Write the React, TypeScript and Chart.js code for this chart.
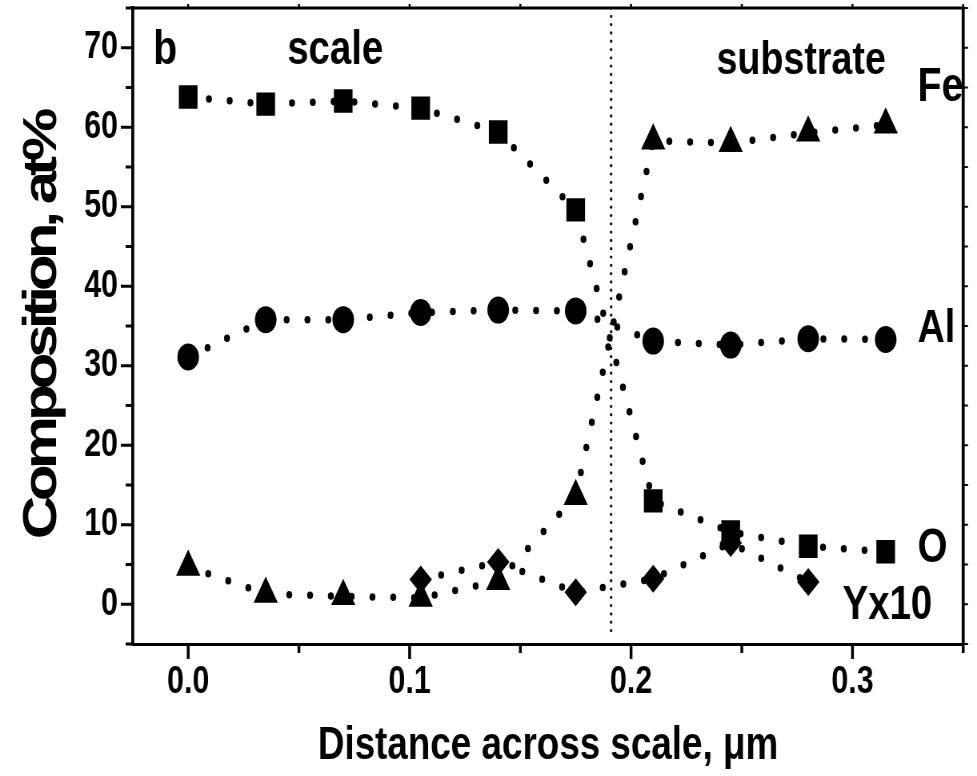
import React, { useEffect, useRef } from "react";
import { Chart, registerables } from "chart.js";

Chart.register(...registerables);

// ---- data ----
const DISTANCE = [0, 0.035, 0.07, 0.105, 0.14, 0.175, 0.21, 0.245, 0.28, 0.315];
const O_AT = [63.8, 62.9, 63.3, 62.4, 59.4, 49.6, 13.0, 9.1, 7.3, 6.6];
const AL_AT = [31.1, 35.8, 35.8, 36.7, 37.0, 36.9, 33.1, 32.6, 33.4, 33.3];
const FE_AT = [4.7, 1.3, 1.0, 0.8, 2.9, 13.6, 58.3, 58.0, 59.3, 60.3];
const Y_DISTANCE = [0.105, 0.14, 0.175, 0.21, 0.245, 0.28];
const Y_X10 = [3.1, 5.3, 1.5, 3.2, 7.7, 2.8];
const BOUNDARY_X = 0.191;
const BOUNDARY_Y = [75, -4];

const X_MAJOR = [0, 0.1, 0.2, 0.3];
const X_ALL = [0, 0.05, 0.1, 0.15, 0.2, 0.25, 0.3, 0.35];
const Y_MAJOR = [0, 10, 20, 30, 40, 50, 60, 70];
const Y_ALL = [-5, 0, 5, 10, 15, 20, 25, 30, 35, 40, 45, 50, 55, 60, 65, 70, 75];

const NOTE_TEXT = ["b", "scale", "substrate", "Fe", "Al", "O", "Yx10"];
const NOTE_X = [-0.0158, 0.0447, 0.2386, 0.3294, 0.3294, 0.3294, 0.2955];
const NOTE_Y = [68.0, 67.9, 66.7, 63.3, 33.0, 5.3, -1.9];
const NOTE_SIZE = [49, 48, 47, 49, 47, 48, 48];

const W = 1221;
const H = 776;
const SX = 977 / W;
const FAMILY = "'Liberation Sans', Arial, Helvetica, sans-serif";

const pts = (xs: number[], ys: number[]) => xs.map((x, i) => ({ x, y: ys[i] }));

const framePlugin = {
  id: "frameTicks",
  beforeDraw(chart: any) {
    const ys = chart.scales.y;
    if (ys && !ys.__patched) {
      const orig = ys.drawTitle.bind(ys);
      ys.drawTitle = function () {
        const c = this.ctx;
        c.save();
        c.letterSpacing = "-5px";
        orig();
        c.restore();
      };
      ys.__patched = true;
    }
  },
  afterDraw(chart: any) {
    const { ctx, chartArea } = chart;
    const xs = chart.scales.x;
    const ys = chart.scales.y;
    const { left, right, top, bottom } = chartArea;
    ctx.save();
    ctx.strokeStyle = "#000";
    ctx.lineCap = "butt";
    // top and right frame
    ctx.lineWidth = 3;
    ctx.beginPath();
    ctx.moveTo(left, top);
    ctx.lineTo(right + 1.9, top);
    ctx.stroke();
    ctx.lineWidth = 3.75;
    ctx.beginPath();
    ctx.moveTo(right, top);
    ctx.lineTo(right, bottom);
    ctx.stroke();
    // left ticks
    ctx.lineWidth = 3;
    Y_ALL.forEach((v) => {
      const p = ys.getPixelForValue(v);
      const len = Y_MAJOR.includes(v) ? 15 : 9;
      ctx.beginPath();
      ctx.moveTo(left - len, p);
      ctx.lineTo(left, p);
      ctx.stroke();
    });
    // right ticks
    ctx.lineWidth = 2;
    Y_ALL.forEach((v) => {
      const p = ys.getPixelForValue(v);
      ctx.beginPath();
      ctx.moveTo(right, p);
      ctx.lineTo(right + 6, p);
      ctx.stroke();
    });
    // bottom ticks
    ctx.lineWidth = 3.5;
    X_ALL.forEach((v) => {
      const p = xs.getPixelForValue(v);
      const len = X_MAJOR.includes(v) ? 15 : 9;
      ctx.beginPath();
      ctx.moveTo(p, bottom);
      ctx.lineTo(p, bottom + len);
      ctx.stroke();
    });
    // top ticks
    ctx.lineWidth = 2.5;
    X_ALL.forEach((v) => {
      const p = xs.getPixelForValue(v);
      ctx.beginPath();
      ctx.moveTo(p, top);
      ctx.lineTo(p, top - 4);
      ctx.stroke();
    });
    // annotations
    ctx.fillStyle = "#000";
    ctx.textAlign = "left";
    ctx.textBaseline = "alphabetic";
    NOTE_TEXT.forEach((t, i) => {
      ctx.font = `bold ${NOTE_SIZE[i]}px ${FAMILY}`;
      ctx.fillText(t, xs.getPixelForValue(NOTE_X[i]), ys.getPixelForValue(NOTE_Y[i]));
    });
    ctx.restore();
  },
};

const lineStyle = {
  borderColor: "#000",
  borderWidth: 7.5,
  borderDash: [0, 26],
  borderCapStyle: "round" as const,
  pointBackgroundColor: "#000",
  pointBorderColor: "#000",
  pointBorderWidth: 0,
  tension: 0,
  fill: false,
};

export default function App() {
  const ref = useRef<HTMLCanvasElement>(null);

  useEffect(() => {
    document.body.style.margin = "0";
    document.body.style.overflow = "hidden";
    const tickFont = { family: FAMILY, size: 38, weight: "bold" as const, lineHeight: 1 };
    const chart = new Chart(ref.current as HTMLCanvasElement, {
      type: "line",
      data: {
        datasets: [
          { ...lineStyle, label: "O", data: pts(DISTANCE, O_AT), pointStyle: "rect", pointRadius: 16.5 },
          { ...lineStyle, label: "Al", data: pts(DISTANCE, AL_AT), pointStyle: "circle", pointRadius: 13.5 },
          { ...lineStyle, label: "Fe", data: pts(DISTANCE, FE_AT), pointStyle: "triangle", pointRadius: 17.5 },
          { ...lineStyle, label: "Yx10", data: pts(Y_DISTANCE, Y_X10), pointStyle: "rectRot", pointRadius: 14 },
          {
            label: "boundary",
            data: BOUNDARY_Y.map((y) => ({ x: BOUNDARY_X, y })),
            borderColor: "#000",
            borderWidth: 3.2,
            borderDash: [0, 8.3],
            borderCapStyle: "round",
            pointRadius: 0,
            fill: false,
          },
        ],
      },
      options: {
        animation: false,
        responsive: false,
        events: [],
        layout: { autoPadding: false, padding: { top: 8, right: W - 1203.75, bottom: 0, left: 0 } },
        plugins: { legend: { display: false }, tooltip: { enabled: false } },
        scales: {
          x: {
            type: "linear",
            min: -0.025,
            max: 0.35,
            afterBuildTicks: (s: any) => {
              s.ticks = X_MAJOR.map((v) => ({ value: v }));
            },
            afterFit: (s: any) => {
              s.height = 132;
              s.paddingLeft = 0;
              s.paddingRight = 0;
              s.paddingTop = 0;
              s.paddingBottom = 0;
            },
            ticks: {
              callback: (v: any) => Number(v).toFixed(1),
              font: tickFont,
              color: "#000",
              padding: 20,
              maxRotation: 0,
              autoSkip: false,
            },
            grid: { display: false, drawTicks: false, tickLength: 0 },
            border: { display: true, color: "#000", width: 3 },
            title: {
              display: true,
              text: "Distance across scale, μm",
              color: "#000",
              font: { family: FAMILY, size: 46, weight: "bold", lineHeight: 1 },
              padding: { top: 0, bottom: 7 },
            },
          },
          y: {
            type: "linear",
            min: -5,
            max: 75,
            afterBuildTicks: (s: any) => {
              s.ticks = Y_MAJOR.map((v) => ({ value: v }));
            },
            afterFit: (s: any) => {
              s.width = 166;
              s.paddingLeft = 0;
              s.paddingRight = 0;
              s.paddingTop = 0;
              s.paddingBottom = 0;
            },
            ticks: {
              callback: (v: any) => String(v),
              font: tickFont,
              color: "#000",
              padding: 18.5,
              autoSkip: false,
            },
            grid: { display: false, drawTicks: false, tickLength: 0 },
            border: { display: true, color: "#000", width: 3.75 },
            title: {
              display: true,
              text: "Composition, at%",
              color: "#000",
              font: { family: FAMILY, size: 60, weight: "bold", lineHeight: 1 },
              padding: { top: 23, bottom: 0 },
            },
          },
        },
      },
      plugins: [framePlugin],
    } as any);
    return () => chart.destroy();
  }, []);

  return (
    <div style={{ position: "fixed", left: 0, top: 0, width: 977, height: 776, overflow: "hidden", background: "#fff" }}>
      <div style={{ width: W, height: H, transform: `scaleX(${SX})`, transformOrigin: "0 0" }}>
        <canvas ref={ref} width={W} height={H} style={{ width: W, height: H, display: "block" }} />
      </div>
    </div>
  );
}
